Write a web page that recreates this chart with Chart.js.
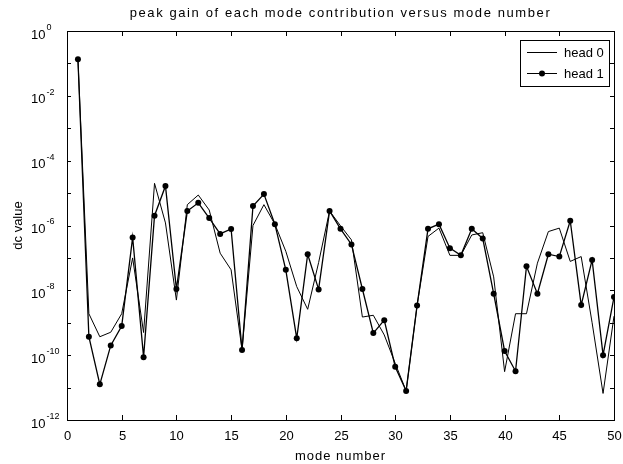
<!DOCTYPE html>
<html lang="en">
<head>
    <meta charset="UTF-8">
    <title>peak gain of each mode contribution versus mode number</title>
    <script src="https://cdn.jsdelivr.net/npm/chart.js"></script>
    <style>
        html, body { margin: 0; padding: 0; background: #fff; }
        #wrap { width: 623px; height: 464px; }
    </style>
</head>
<body>
    <div id="wrap"><canvas id="modeChart" width="623" height="464"></canvas></div>

    <script>
        // mode numbers
        const modes = [1, 2, 3, 4, 5, 6, 7, 8, 9, 10,
                       11, 12, 13, 14, 15, 16, 17, 18, 19, 20,
                       21, 22, 23, 24, 25, 26, 27, 28, 29, 30,
                       31, 32, 33, 34, 35, 36, 37, 38, 39, 40,
                       41, 42, 43, 44, 45, 46, 47, 48, 49, 50];

        // dc value, head 0 (plain line)
        const head0 = [1.35e-1, 1.9e-9, 3.7e-10, 5.1e-10, 1.9e-9, 1.0e-7, 5.0e-10, 2.0e-5, 1.2e-6, 5.0e-9,
                       4.4e-6, 8.7e-6, 3.0e-6, 1.4e-7, 4.3e-8, 1.45e-10, 1.0e-6, 4.4e-6, 1.1e-6, 1.6e-7,
                       1.3e-8, 2.6e-9, 7.2e-8, 2.8e-6, 9.8e-7, 3.6e-7, 1.5e-9, 1.7e-9, 4.2e-10, 5.6e-11,
                       7.9e-12, 3.4e-9, 4.6e-7, 8.3e-7, 1.2e-7, 1.2e-7, 5.1e-7, 6.0e-7, 2.6e-8, 3.1e-11,
                       1.9e-9, 1.9e-9, 6.9e-8, 6.5e-7, 8.3e-7, 7.8e-8, 1.1e-7, 1.0e-9, 6.6e-12, 1.6e-9];

        // dc value, head 1 (line with dots)
        const head1 = [1.35e-1, 3.7e-10, 1.26e-11, 2.0e-10, 7.9e-10, 4.3e-7, 8.7e-11, 2.0e-6, 1.66e-5, 1.1e-8,
                       2.8e-6, 5.0e-6, 1.7e-6, 5.5e-7, 7.8e-7, 1.45e-10, 4.0e-6, 9.3e-6, 1.1e-6, 4.3e-8,
                       3.3e-10, 1.3e-7, 1.07e-8, 2.8e-6, 7.9e-7, 2.6e-7, 1.1e-8, 4.8e-10, 1.2e-9, 4.4e-11,
                       7.9e-12, 3.4e-9, 7.9e-7, 1.1e-6, 2.0e-7, 1.2e-7, 7.9e-7, 4.0e-7, 7.9e-9, 1.35e-10,
                       3.2e-11, 5.5e-8, 7.9e-9, 1.3e-7, 1.1e-7, 1.4e-6, 3.5e-9, 8.7e-8, 1.0e-10, 6.2e-9];

        // axis ticks
        const xTicks = [0, 5, 10, 15, 20, 25, 30, 35, 40, 45, 50];
        const yExponents = [0, -1, -2, -3, -4, -5, -6, -7, -8, -9, -10, -11, -12];
        const yLabelExponents = ['0', '-2', '-4', '-6', '-8', '-10', '-12'];

        const FONT = '"Liberation Sans", Arial, sans-serif';

        // draws the matlab-style box, inward ticks, labels, titles and legend
        const matlabFrame = {
            id: 'matlabFrame',
            afterDraw(chart) {
                const ctx = chart.ctx;
                const area = chart.chartArea;
                const xs = chart.scales.x;
                const ys = chart.scales.y;
                ctx.save();
                ctx.strokeStyle = '#000';
                ctx.fillStyle = '#000';
                ctx.lineWidth = 1;

                // box
                ctx.strokeRect(Math.round(area.left) + 0.5, Math.round(area.top) + 0.5,
                    Math.round(area.right - area.left), Math.round(area.bottom - area.top));

                // x ticks + labels
                ctx.font = '13px ' + FONT;
                ctx.textAlign = 'center';
                ctx.textBaseline = 'middle';
                xTicks.forEach(v => {
                    const px = Math.round(xs.getPixelForValue(v)) + 0.5;
                    ctx.beginPath();
                    ctx.moveTo(px, area.bottom); ctx.lineTo(px, area.bottom - 5);
                    ctx.moveTo(px, area.top); ctx.lineTo(px, area.top + 5);
                    ctx.stroke();
                    ctx.fillText(String(v), px, area.bottom + 16);
                });

                // y ticks (every decade)
                yExponents.forEach(e => {
                    const py = Math.round(ys.getPixelForValue(Math.pow(10, e))) + 0.5;
                    ctx.beginPath();
                    ctx.moveTo(area.left, py); ctx.lineTo(area.left + 4, py);
                    ctx.moveTo(area.right, py); ctx.lineTo(area.right - 4, py);
                    ctx.stroke();
                });

                // y labels 10^n
                yLabelExponents.forEach(s => {
                    const py = ys.getPixelForValue(Math.pow(10, Number(s)));
                    ctx.textAlign = 'left';
                    ctx.textBaseline = 'middle';
                    ctx.font = '13px ' + FONT;
                    ctx.fillText('10', 31, py + 4);
                    ctx.font = '9px ' + FONT;
                    ctx.fillText(s, 46.5, py - 3.5);
                });

                // title and axis titles
                ctx.textAlign = 'center';
                ctx.textBaseline = 'middle';
                const cx = (area.left + area.right) / 2;
                ctx.font = '13px ' + FONT;
                if ('letterSpacing' in ctx) ctx.letterSpacing = '1.6px';
                ctx.fillText('peak gain of each mode contribution versus mode number', cx, 13);
                if ('letterSpacing' in ctx) ctx.letterSpacing = '1px';
                ctx.fillText('mode number', cx, 456);
                if ('letterSpacing' in ctx) ctx.letterSpacing = '0px';
                ctx.save();
                ctx.translate(18, (area.top + area.bottom) / 2);
                ctx.rotate(-Math.PI / 2);
                ctx.fillText('dc value', 0, 0);
                ctx.restore();

                // legend
                const lx = 520, ly = 40, lw = 89, lh = 46;
                ctx.fillStyle = '#fff';
                ctx.fillRect(lx, ly, lw, lh);
                ctx.strokeRect(lx + 0.5, ly + 0.5, lw, lh);
                ctx.fillStyle = '#000';
                ctx.beginPath();
                ctx.moveTo(527, 52.5); ctx.lineTo(557, 52.5);
                ctx.moveTo(527, 73.5); ctx.lineTo(557, 73.5);
                ctx.stroke();
                ctx.beginPath();
                ctx.arc(542, 73.5, 3, 0, Math.PI * 2);
                ctx.fill();
                ctx.textAlign = 'left';
                ctx.font = '13px ' + FONT;
                ctx.fillText('head 0', 564, 53);
                ctx.fillText('head 1', 564, 74);

                ctx.restore();
            }
        };

        new Chart(document.getElementById('modeChart').getContext('2d'), {
            type: 'line',
            data: {
                datasets: [
                    {
                        label: 'head 0',
                        data: modes.map((m, i) => ({ x: m, y: head0[i] })),
                        borderColor: '#000',
                        borderWidth: 1,
                        pointRadius: 0,
                        tension: 0,
                        fill: false
                    },
                    {
                        label: 'head 1',
                        data: modes.map((m, i) => ({ x: m, y: head1[i] })),
                        borderColor: '#000',
                        backgroundColor: '#000',
                        borderWidth: 1.3,
                        pointRadius: 3,
                        pointBackgroundColor: '#000',
                        pointBorderColor: '#000',
                        pointBorderWidth: 0,
                        tension: 0,
                        fill: false
                    }
                ]
            },
            options: {
                responsive: false,
                animation: false,
                events: [],
                layout: { padding: { left: 67, top: 31, right: 9, bottom: 44 } },
                scales: {
                    x: { type: 'linear', min: 0, max: 50, display: false },
                    y: { type: 'logarithmic', min: 1e-12, max: 1, display: false }
                },
                plugins: {
                    legend: { display: false },
                    title: { display: false },
                    tooltip: { enabled: false }
                }
            },
            plugins: [matlabFrame]
        });
    </script>
</body>
</html>
